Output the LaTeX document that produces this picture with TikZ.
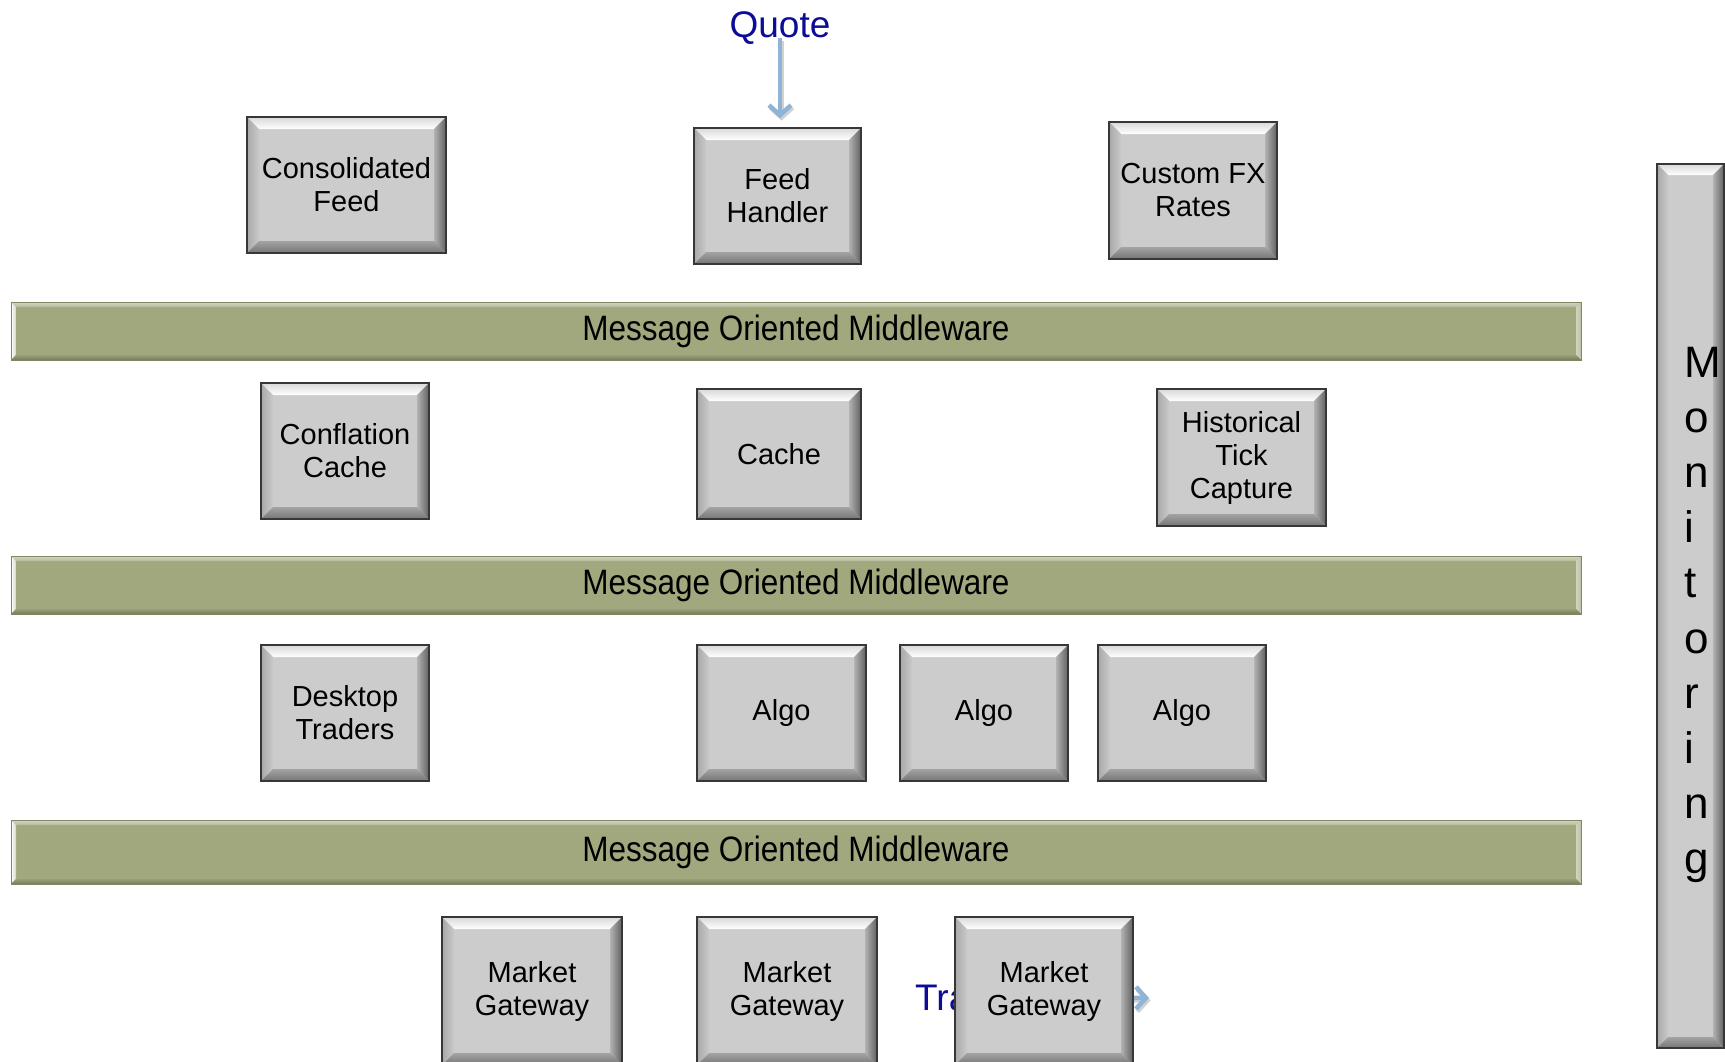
\documentclass[tikz,border=0pt]{standalone}
\usepackage{fontspec}
\usepackage{graphicx}
\setmainfont{Liberation Sans}
\usetikzlibrary{arrows.meta,backgrounds}

\definecolor{boxface}{RGB}{204,204,204}
\definecolor{boxedge}{RGB}{55,55,55}
\definecolor{momface}{RGB}{161,168,126}
\definecolor{momdark}{RGB}{118,124,90}
\definecolor{labelblue}{RGB}{12,12,150}
\definecolor{flowblue}{RGB}{143,180,214}

\newcommand\bevw{12pt}
\newcommand\boxfont{\fontsize{29}{33}\selectfont}
\newcommand\momfont{\fontsize{31.5}{36}\selectfont}

\tikzset{
  bev/.store in=\bevw,
  bevelcorners/.style={path picture={
      \coordinate (bb-sw) at (path picture bounding box.south west);
      \coordinate (bb-ne) at (path picture bounding box.north east);
      \coordinate (bb-nw) at (bb-sw|-bb-ne);
      \coordinate (bb-se) at (bb-ne|-bb-sw);
      \coordinate (in-sw) at ([shift={(\bevw,\bevw)}]bb-sw);
      \coordinate (in-ne) at ([shift={(-\bevw,-\bevw)}]bb-ne);
      \coordinate (in-nw) at (in-sw|-in-ne);
      \coordinate (in-se) at (in-ne|-in-sw);
      #1}},
  % grey bevelled button
  gbox/.style={rectangle, draw=boxedge, line width=1.6pt, fill=boxface,
    inner sep=0pt, align=center, font=\boxfont, bev=12pt,
    bevelcorners={
      \shade[top color=black!15, bottom color=white]
        (bb-nw) -- (bb-ne) -- (in-ne) -- (in-nw) -- cycle;
      \shade[left color=black!34, right color=black!21]
        (bb-nw) -- (in-nw) -- (in-sw) -- (bb-sw) -- cycle;
      \shade[left color=black!30, right color=black!62]
        (bb-ne) -- (bb-se) -- (in-se) -- (in-ne) -- cycle;
      \shade[top color=black!36, bottom color=black!54]
        (bb-sw) -- (in-sw) -- (in-se) -- (bb-se) -- cycle;
    }},
  % green middleware bar
  mbar/.style={rectangle, draw=momface!80!black, line width=0.8pt, fill=momface,
    inner sep=0pt, font=\momfont, bev=5pt,
    bevelcorners={
      \shade[top color=momface!45!white, bottom color=momface!80!white]
        (bb-nw) -- (bb-ne) -- (in-ne) -- (in-nw) -- cycle;
      \shade[left color=white, right color=momface!45!white]
        (bb-nw) -- (in-nw) -- (in-sw) -- (bb-sw) -- cycle;
      \shade[left color=momface!50!white, right color=momface!70!white]
        (bb-ne) -- (bb-se) -- (in-se) -- (in-ne) -- cycle;
      \shade[top color=momface!80!momdark, bottom color=momdark]
        (bb-sw) -- (in-sw) -- (in-se) -- (bb-se) -- cycle;
    }},
  bluelabel/.style={font=\fontsize{37}{41}\selectfont, text=labelblue, inner sep=0pt},
  flow/.style={draw=flowblue, line width=4.5pt,
    -{Straight Barb[length=10pt, width=22pt]}},
  flowshadow/.style={draw=black, opacity=0.18, line width=4.5pt,
    -{Straight Barb[length=10pt, width=22pt]}},
  monletter/.style={font=\fontsize{44}{50}\selectfont, anchor=base west, inner sep=0pt},
}

\begin{document}
\begin{tikzpicture}[x=1pt, y=-1pt]
  \useasboundingbox (0,0) rectangle (1725,1061);
  \fill[white] (0,0) rectangle (1725,1061);
  \clip (0,0) rectangle (1725,1061);

  % feed sources
  \node[gbox, minimum width=199pt, minimum height=136pt] (cf) at (346.5,185) {Consolidated\\Feed};
  \node[gbox, minimum width=167pt, minimum height=136pt] (fh) at (777.5,196) {Feed\\Handler};
  \node[gbox, minimum width=168pt, minimum height=137pt] (fx) at (1193,190.5) {Custom FX\\Rates};

  % incoming quote
  \node[bluelabel, anchor=base] (quote) at (780,37) {Quote};
  \draw[flowshadow, shorten <=-6pt, shorten >=9pt, transform canvas={xshift=1.5pt, yshift=-2.5pt}] (quote.south) -- (quote.south |- fh.north);
  \draw[flow, shorten <=-6pt, shorten >=9pt] (quote.south) -- (quote.south |- fh.north);

  % middleware layers
  \node[mbar, minimum width=1570pt, minimum height=58pt] (mom1) at (796,331) {\scalebox{1}[1.12]{Message Oriented Middleware}};
  \node[mbar, minimum width=1570pt, minimum height=58pt] (mom2) at (796,585) {\scalebox{1}[1.12]{Message Oriented Middleware}};
  \node[mbar, minimum width=1570pt, minimum height=64pt] (mom3) at (796,852) {\scalebox{1}[1.12]{Message Oriented Middleware}};

  % soft shadows under the middleware bars
  \begin{scope}[on background layer]
    \foreach \n in {mom1,mom2,mom3}{
      \foreach \k in {0,...,5}{
        \fill[black, opacity=0.05]
          ([shift={(-0.7*\k pt, -3pt-\k pt)}]\n.south west)
          rectangle ([shift={(0.7*\k pt+1pt, 0pt)}]\n.north east);
      }
    }
  \end{scope}

  % caching tier
  \node[gbox, minimum width=168pt, minimum height=136pt] (cc) at (345,451) {Conflation\\Cache};
  \node[gbox, minimum width=164pt, minimum height=130pt] (ca) at (779,454) {Cache};
  \node[gbox, minimum width=169pt, minimum height=137pt] (ht) at (1241.5,457.5) {Historical\\Tick\\Capture};

  % trading tier
  \node[gbox, minimum width=168pt, minimum height=136pt] (dt) at (345,713) {Desktop\\Traders};
  \node[gbox, minimum width=169pt, minimum height=136pt] (a1) at (781.5,713) {Algo};
  \node[gbox, minimum width=168pt, minimum height=136pt] (a2) at (984,713) {Algo};
  \node[gbox, minimum width=168pt, minimum height=136pt] (a3) at (1182,713) {Algo};

  % outgoing trade, passing behind the last gateway
  \node[bluelabel, anchor=base west] (trade) at (915,1010) {Trade};
  \coordinate (tradeend) at (1149,998);
  \draw[flowshadow, transform canvas={xshift=1.5pt, yshift=-2.5pt}] (trade.east) -- (tradeend);
  \draw[flow] (trade.east) -- (tradeend);

  % gateways
  \node[gbox, minimum width=180pt, minimum height=148pt] (mg1) at (532,991) {Market\\Gateway};
  \node[gbox, minimum width=180pt, minimum height=148pt] (mg2) at (787,991) {Market\\Gateway};
  \node[gbox, minimum width=178pt, minimum height=148pt] (mg3) at (1044,991) {Market\\Gateway};

  % monitoring column
  \node[gbox, bev=11pt, minimum width=67pt, minimum height=884pt] (mon) at (1690.5,606) {};
  \foreach \ch [count=\i] in {M,o,n,i,t,o,r,i,n,g}{
    \node[monletter] (mon-\i) at (1684,{377+55.2*(\i-1)}) {\ch};
  }
\end{tikzpicture}
\end{document}
